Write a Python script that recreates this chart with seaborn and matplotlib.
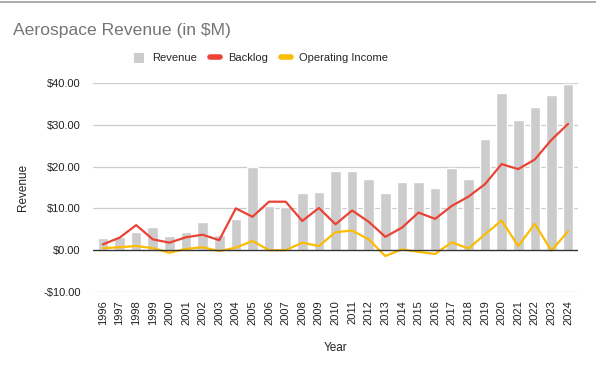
import numpy as np
import pandas as pd
import matplotlib
matplotlib.use("Agg")
import matplotlib.pyplot as plt
from matplotlib.ticker import FuncFormatter
from matplotlib.lines import Line2D
from matplotlib.patches import Patch
import seaborn as sns

# Data
years = list(range(1996, 2025))
revenue = [2.8, 3.2, 4.4, 5.5, 3.4, 4.4, 6.7, 3.7, 7.4, 20.0,
           10.6, 10.4, 13.7, 13.9, 18.9, 18.9, 17.0, 13.7, 16.3, 16.2,
           14.9, 19.6, 17.0, 26.5, 37.6, 31.1, 34.2, 37.2, 39.8]
backlog = [1.4, 3.0, 6.0, 2.6, 1.8, 3.1, 3.7, 2.4, 10.0, 8.0,
           11.6, 11.6, 7.0, 10.1, 6.2, 9.5, 6.8, 3.2, 5.4, 9.0,
           7.5, 10.6, 12.8, 15.8, 20.6, 19.4, 21.7, 26.4, 30.2]
op_income = [0.5, 0.7, 1.0, 0.5, -0.6, 0.3, 0.7, -0.2, 0.6, 2.2,
             0.0, 0.0, 1.8, 1.0, 4.3, 4.7, 2.6, -1.4, 0.2, -0.4,
             -0.9, 1.9, 0.4, 3.8, 7.1, 1.0, 6.3, -0.1, 4.5]
y_ticks = [-10, 0, 10, 20, 30, 40]

df = pd.DataFrame({"Year": years, "Revenue": revenue,
                   "Backlog": backlog, "Operating Income": op_income})

bar_color = "#cccccc"
red = "#ea4335"
yellow = "#fbbc04"

sns.set_style("white")
plt.rcParams["font.family"] = ["Liberation Sans", "DejaVu Sans"]

fig = plt.figure(figsize=(5.96, 3.75), dpi=100)
ax = fig.add_axes([93 / 596, 1 - 292 / 375, (578 - 93) / 596, (292 - 83) / 375])

sns.barplot(data=df, x="Year", y="Revenue", native_scale=True, color=bar_color,
            width=0.64, saturation=1, ax=ax, zorder=2)
sns.lineplot(data=df, x="Year", y="Backlog", color=red, linewidth=1.6, ax=ax, zorder=3)
sns.lineplot(data=df, x="Year", y="Operating Income", color=yellow, linewidth=1.6,
             ax=ax, zorder=3)

ax.set_xlim(years[0] - 0.6, years[-1] + 0.6)
ax.set_ylim(-10, 40)
ax.set_yticks(y_ticks)
ax.yaxis.set_major_formatter(FuncFormatter(lambda v, p: f"-${abs(v):.2f}" if v < 0 else f"${v:.2f}"))
ax.set_xticks(years)
ax.set_xticklabels([str(y) for y in years], rotation=90)
ax.tick_params(axis="both", length=0, labelsize=8, colors="#222222")
ax.tick_params(axis="y", pad=9)
ax.tick_params(axis="x", pad=6)

for v in y_ticks:
    if v != 0:
        ax.axhline(v, color="#cccccc", linewidth=0.9, zorder=0)
ax.axhline(0, color="#333333", linewidth=1.0, zorder=4)
for s in ax.spines.values():
    s.set_visible(False)

ax.set_xlabel("Year", fontsize=8.5, color="#222222", labelpad=12)
ax.set_ylabel("Revenue", fontsize=8.5, color="#222222", labelpad=10)

fig.text(13 / 596, 1 - 31 / 375, "Aerospace Revenue (in $M)", fontsize=12.6,
         color="#757575", ha="left", va="center")

handles = [Patch(facecolor=bar_color, edgecolor="none"),
           Line2D([], [], color=red, linewidth=4),
           Line2D([], [], color=yellow, linewidth=4)]
fig.legend(handles, ["Revenue", "Backlog", "Operating Income"], loc="center",
           bbox_to_anchor=(261 / 596, 1 - 58 / 375), ncol=3, frameon=False,
           fontsize=8, handlelength=0.9, handleheight=1.0, columnspacing=1.2,
           handletextpad=0.7)

fig.add_artist(Line2D([0, 1], [1 - 1.5 / 375] * 2, color="#9e9e9e", linewidth=1.2))

fig.savefig("out.png", dpi=100)
